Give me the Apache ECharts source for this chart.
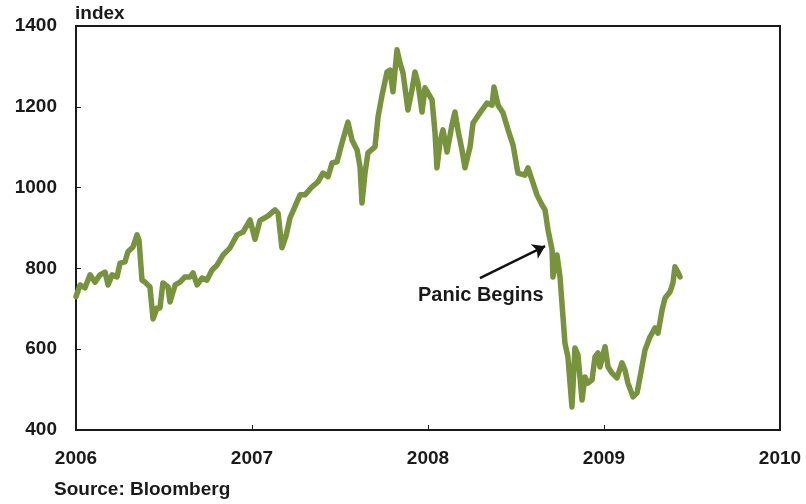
<!DOCTYPE html>
<html>
<head>
<meta charset="utf-8">
<script src="https://cdn.jsdelivr.net/npm/echarts@6/dist/echarts.min.js"></script>
<style>
  html, body { margin: 0; padding: 0; background: #fff; }
  #chart { width: 806px; height: 504px; }
</style>
</head>
<body>
<div id="chart"></div>
<script>
// Data ///////
// dates as decimal years, values as index level
var dates = [
  2006.000, 2006.023, 2006.051, 2006.080, 2006.108, 2006.136, 2006.165, 2006.182, 2006.205, 2006.233,
  2006.250, 2006.278, 2006.295, 2006.324, 2006.347, 2006.358, 2006.375, 2006.392, 2006.420, 2006.438,
  2006.460, 2006.477, 2006.494, 2006.523, 2006.534, 2006.563, 2006.591, 2006.619, 2006.648, 2006.665,
  2006.688, 2006.716, 2006.744, 2006.773, 2006.801, 2006.835, 2006.875, 2006.915, 2006.949, 2006.989,
  2007.017, 2007.045, 2007.091, 2007.131, 2007.148, 2007.170, 2007.193, 2007.216, 2007.273, 2007.301,
  2007.341, 2007.375, 2007.403, 2007.432, 2007.455, 2007.483, 2007.511, 2007.545, 2007.568, 2007.597,
  2007.614, 2007.625, 2007.642, 2007.659, 2007.699, 2007.716, 2007.739, 2007.767, 2007.784, 2007.801,
  2007.824, 2007.841, 2007.858, 2007.886, 2007.909, 2007.926, 2007.943, 2007.966, 2007.983, 2008.023,
  2008.040, 2008.051, 2008.068, 2008.085, 2008.108, 2008.136, 2008.153, 2008.170, 2008.193, 2008.210,
  2008.239, 2008.256, 2008.295, 2008.335, 2008.364, 2008.375, 2008.398, 2008.426, 2008.455, 2008.483,
  2008.511, 2008.551, 2008.568, 2008.591, 2008.619, 2008.648, 2008.665, 2008.682, 2008.705, 2008.710,
  2008.733, 2008.750, 2008.767, 2008.778, 2008.795, 2008.818, 2008.835, 2008.852, 2008.875, 2008.892,
  2008.909, 2008.932, 2008.949, 2008.966, 2008.977, 2009.006, 2009.023, 2009.045, 2009.074, 2009.102,
  2009.119, 2009.136, 2009.165, 2009.188, 2009.205, 2009.233, 2009.261, 2009.290, 2009.307, 2009.330,
  2009.347, 2009.375, 2009.392, 2009.403, 2009.420, 2009.432
];
var values = [
  730, 759, 752, 784, 766, 784, 791, 759, 784, 779,
  813, 816, 841, 853, 883, 870, 771, 766, 754, 675,
  702, 702, 764, 754, 717, 759, 766, 779, 779, 789,
  759, 776, 771, 796, 808, 833, 851, 883, 890, 920,
  872, 918, 930, 945, 937, 851, 880, 925, 982, 982,
  1002, 1014, 1036, 1027, 1061, 1064, 1110, 1162, 1118, 1093,
  1051, 962, 1036, 1086, 1101, 1175, 1229, 1286, 1291, 1237,
  1341, 1308, 1284, 1192, 1242, 1286, 1259, 1187, 1247, 1217,
  1135, 1049, 1113, 1143, 1088, 1155, 1187, 1143, 1093, 1049,
  1101, 1160, 1185, 1209, 1204, 1249, 1204, 1185, 1143, 1106,
  1036, 1031, 1049, 1019, 982, 957, 945, 895, 846, 779,
  833, 779, 680, 615, 581, 457, 603, 586, 474, 531,
  516, 524, 581, 591, 556, 606, 556, 541, 529, 566,
  549, 516, 482, 492, 531, 598, 630, 653, 640, 697,
  727, 742, 764, 804, 791, 779
];

var yTicks = { min: 400, max: 1400, step: 200 };
var xTicks = { min: 2006, max: 2010, step: 1 };

// annotation: arrow tail, arrow head, label position
var arrowFrom = [2008.295, 776];
var arrowTo = [2008.665, 855];
var noteAt = [2008.300, 732];
var noteText = 'Panic Begins';

var seriesData = dates.map(function (d, i) { return [d, values[i]]; });

var textColor = '#1a1a1a';
var fontFamily = 'Liberation Sans, Arial, sans-serif';

var option = {
    animation: false,
    grid: {
        left: 76,
        right: 26,
        top: 26,
        bottom: 74,
        show: true,
        borderColor: '#1a1a1a',
        borderWidth: 2
    },
    xAxis: {
        type: 'value',
        min: xTicks.min,
        max: xTicks.max,
        interval: xTicks.step,
        axisLine: { show: true, lineStyle: { color: '#1a1a1a', width: 2 } },
        axisTick: { show: true, inside: true, length: 5, lineStyle: { color: '#1a1a1a' } },
        splitLine: { show: false },
        axisLabel: {
            margin: 19,
            color: textColor,
            fontFamily: fontFamily,
            fontWeight: 'bold',
            fontSize: 19,
            formatter: function (v) { return String(Math.round(v)); }
        }
    },
    yAxis: {
        type: 'value',
        min: yTicks.min,
        max: yTicks.max,
        interval: yTicks.step,
        axisLine: { show: true, lineStyle: { color: '#1a1a1a', width: 2 } },
        axisTick: { show: true, inside: true, length: 5, lineStyle: { color: '#1a1a1a' } },
        splitLine: { show: false },
        axisLabel: {
            margin: 19,
            color: textColor,
            fontFamily: fontFamily,
            fontWeight: 'bold',
            fontSize: 19,
            formatter: function (v) { return String(v); }
        }
    },
    graphic: [
        {
            type: 'text',
            left: 75,
            top: 4,
            style: {
                text: 'index',
                fill: textColor,
                font: 'bold 19px ' + fontFamily
            }
        },
        {
            type: 'text',
            left: 54,
            top: 480,
            style: {
                text: 'Source: Bloomberg',
                fill: textColor,
                font: 'bold 19px ' + fontFamily
            }
        }
    ],
    series: [
        {
            type: 'line',
            data: seriesData,
            showSymbol: false,
            symbol: 'none',
            lineStyle: { color: '#77933C', width: 5.5, join: 'round', cap: 'round' },
            markLine: {
                silent: true,
                symbol: ['none', 'arrow'],
                symbolSize: 12,
                label: { show: false },
                lineStyle: { color: '#111', width: 2.5, type: 'solid' },
                data: [[{ coord: arrowFrom }, { coord: arrowTo }]]
            },
            markPoint: {
                silent: true,
                symbol: 'circle',
                symbolSize: 1,
                itemStyle: { color: 'rgba(0,0,0,0)' },
                label: {
                    show: true,
                    position: 'inside',
                    formatter: noteText,
                    color: textColor,
                    fontFamily: fontFamily,
                    fontWeight: 'bold',
                    fontSize: 20
                },
                data: [{ coord: noteAt }]
            }
        }
    ]
};

var chart = echarts.init(document.getElementById('chart'));
chart.setOption(option);

window.addEventListener('resize', function () {
    chart.resize();
});
</script>
</body>
</html>
